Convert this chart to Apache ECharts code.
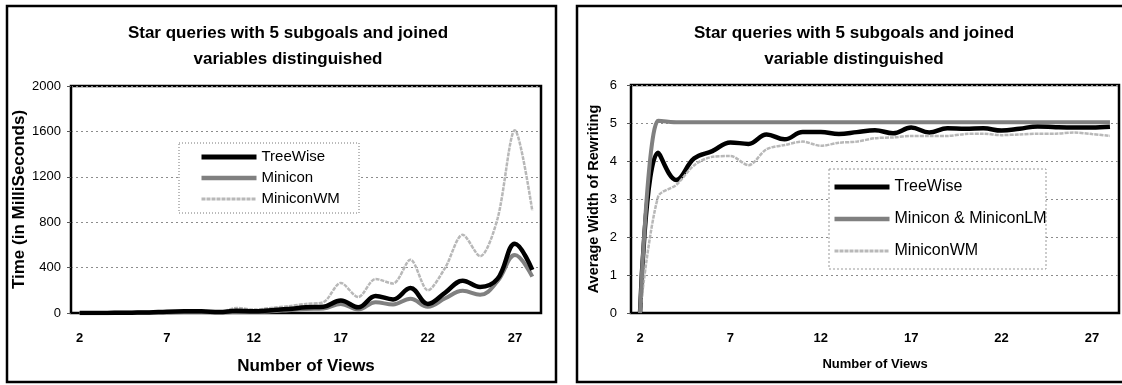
<!DOCTYPE html>
<html>
<head>
<meta charset="utf-8">
<script src="https://cdn.jsdelivr.net/npm/echarts@6/dist/echarts.min.js"></script>
<style>
  html, body { margin: 0; padding: 0; background: #fff; }
  #chart { width: 1122px; height: 385px; }
</style>
</head>
<body>
<div id="chart"></div>
<script>
// Number of views on the x axis (shared by both panels)
const views = ['2','3','4','5','6','7','8','9','10','11','12','13','14','15','16','17','18','19','20','21','22','23','24','25','26','27','28'];

// Left panel: time in milliseconds
const treeWiseTime  = [0, 0, 2, 3, 5, 12, 15, 15, 8, 20, 15, 25, 35, 50, 55, 110, 50, 150, 120, 220, 80, 180, 285, 230, 300, 610, 380];
const miniconTime   = [0, 0, 2, 3, 5, 5, 8, 8, 5, 10, 10, 15, 25, 35, 40, 80, 30, 95, 75, 125, 55, 130, 195, 160, 280, 510, 320];
const miniconWMTime = [0, 0, 3, 5, 5, 5, 8, 10, 5, 45, 30, 45, 60, 80, 95, 265, 140, 300, 260, 470, 200, 400, 690, 500, 830, 1610, 900];

// Right panel: average width of rewriting
const treeWiseWidth  = [0, 4.22, 3.5, 4.07, 4.26, 4.49, 4.45, 4.7, 4.57, 4.76, 4.76, 4.71, 4.76, 4.81, 4.73, 4.88, 4.75, 4.86, 4.85, 4.86, 4.8, 4.85, 4.91, 4.89, 4.88, 4.88, 4.9];
const miniconWidth   = [0, 5.06, 5.02, 5.02, 5.02, 5.02, 5.02, 5.02, 5.02, 5.02, 5.02, 5.02, 5.02, 5.02, 5.02, 5.02, 5.02, 5.02, 5.02, 5.02, 5.02, 5.02, 5.02, 5.02, 5.02, 5.02, 5.02];
const miniconWMWidth = [0, 3.06, 3.37, 3.89, 4.11, 4.13, 3.89, 4.31, 4.42, 4.51, 4.4, 4.48, 4.51, 4.6, 4.62, 4.66, 4.66, 4.66, 4.71, 4.72, 4.68, 4.7, 4.72, 4.72, 4.75, 4.71, 4.66];

const FONT = "'Liberation Sans', Arial, sans-serif";

const styleTree = { color: '#000', width: 4.5 };
const styleMinicon = { color: '#808080', width: 4 };
const styleWM = { color: '#b8b8b8', width: 2.5, type: [4, 1] };

function xAxisFor(gridIndex, nameSize, nameGap) {
  return {
    gridIndex, type: 'category', data: views, boundaryGap: true,
    name: 'Number of Views', nameLocation: 'middle', nameGap,
    nameTextStyle: { fontFamily: FONT, fontWeight: 'bold', fontSize: nameSize, color: '#000' },
    axisLine: { lineStyle: { color: '#000', width: 2 } },
    axisTick: { show: false },
    axisLabel: { interval: 4, fontFamily: FONT, fontWeight: 'bold', fontSize: 13, color: '#000', margin: 19 },
    splitLine: { show: false }
  };
}

function yAxisFor(gridIndex, name, max, interval, nameSize, nameGap, labelMargin) {
  return {
    gridIndex, type: 'value', min: 0, max, interval,
    name, nameLocation: 'middle', nameGap,
    nameTextStyle: { fontFamily: FONT, fontWeight: 'bold', fontSize: nameSize, color: '#000' },
    axisLine: { show: true, lineStyle: { color: '#000', width: 2 } },
    axisTick: { show: true, length: 4, lineStyle: { color: '#555' } },
    axisLabel: { fontFamily: FONT, fontSize: 13, color: '#000', margin: labelMargin, formatter: v => String(v) },
    splitLine: { show: true, lineStyle: { color: '#8c8c8c', type: [2, 3], width: 1 } }
  };
}

function lineSeries(name, data, axisIndex, lineStyle, smooth, z) {
  return {
    name, type: 'line', data,
    xAxisIndex: axisIndex, yAxisIndex: axisIndex,
    symbol: 'none', smooth, lineStyle, itemStyle: { color: lineStyle.color },
    z, animation: false
  };
}

// Legend entries draw only the line sample (the marker is made transparent)
function legendItem(name, lineStyle) {
  return {
    name,
    itemStyle: { opacity: 0 },
    lineStyle: { color: lineStyle.color, width: lineStyle.width + 0.5, type: lineStyle.type || 'solid', opacity: 1 }
  };
}

const chart = echarts.init(document.getElementById('chart'), null, { renderer: 'canvas' });

chart.setOption({
  animation: false,
  backgroundColor: '#fff',
  title: [
    {
      text: 'Star queries with 5 subgoals and joined\nvariables distinguished',
      left: 283, top: 15, textAlign: 'center',
      textStyle: { fontFamily: FONT, fontWeight: 'bold', fontSize: 17, lineHeight: 26, color: '#000' }
    },
    {
      text: 'Star queries with 5 subgoals and joined\nvariable distinguished',
      left: 849, top: 15, textAlign: 'center',
      textStyle: { fontFamily: FONT, fontWeight: 'bold', fontSize: 17, lineHeight: 26, color: '#000' }
    }
  ],
  graphic: [
    { type: 'rect', shape: { x: 7, y: 6, width: 549, height: 376 }, style: { fill: 'none', stroke: '#000', lineWidth: 2.5 }, z: 0 },
    { type: 'rect', shape: { x: 577, y: 6, width: 560, height: 376 }, style: { fill: 'none', stroke: '#000', lineWidth: 2.5 }, z: 0 },
    { type: 'rect', shape: { x: 179, y: 143, width: 180, height: 70 }, style: { fill: '#fff', stroke: '#777', lineWidth: 1, lineDash: [1, 2] }, z: 3 },
    { type: 'rect', shape: { x: 829, y: 169, width: 217, height: 100 }, style: { fill: '#fff', stroke: '#999', lineWidth: 1, lineDash: [2, 2] }, z: 3 }
  ],
  legend: [
    {
      orient: 'vertical', left: 199, top: 148, padding: 0, itemGap: 3,
      itemWidth: 55, itemHeight: 14, z: 5,
      itemStyle: { opacity: 0 },
      data: [legendItem('TreeWise', styleTree), legendItem('Minicon', styleMinicon), legendItem('MiniconWM', styleWM)],
      textStyle: { fontFamily: FONT, fontSize: 15, lineHeight: 18, color: '#000' }
    },
    {
      orient: 'vertical', left: 832, top: 178, padding: 0, itemGap: 14,
      itemWidth: 55, itemHeight: 14, z: 5,
      itemStyle: { opacity: 0 },
      data: [legendItem('TreeWise', styleTree), legendItem('Minicon & MiniconLM', styleMinicon), legendItem('MiniconWM', styleWM)],
      textStyle: { fontFamily: FONT, fontSize: 16, lineHeight: 18, color: '#000' }
    }
  ],
  grid: [
    { left: 71, top: 86, width: 470, height: 227, show: true, borderColor: '#000', borderWidth: 2.5, backgroundColor: '#fff' },
    { left: 631, top: 85, width: 488, height: 228, show: true, borderColor: '#000', borderWidth: 2.5, backgroundColor: '#fff' }
  ],
  xAxis: [
    xAxisFor(0, 17, 45),
    xAxisFor(1, 13, 45)
  ],
  yAxis: [
    yAxisFor(0, 'Time (in MilliSeconds)', 2000, 400, 17, 29, 10),
    yAxisFor(1, 'Average Width of Rewriting', 6, 1, 14.5, 30, 14)
  ],
  series: [
    lineSeries('MiniconWM', miniconWMTime, 0, styleWM, 0.3, 2),
    lineSeries('Minicon', miniconTime, 0, styleMinicon, 0.4, 3),
    lineSeries('TreeWise', treeWiseTime, 0, styleTree, 0.4, 4),
    lineSeries('TreeWise', treeWiseWidth, 1, styleTree, 0.4, 2),
    lineSeries('MiniconWM', miniconWMWidth, 1, styleWM, 0.3, 3),
    lineSeries('Minicon & MiniconLM', miniconWidth, 1, styleMinicon, 0.3, 4)
  ]
});
</script>
</body>
</html>
